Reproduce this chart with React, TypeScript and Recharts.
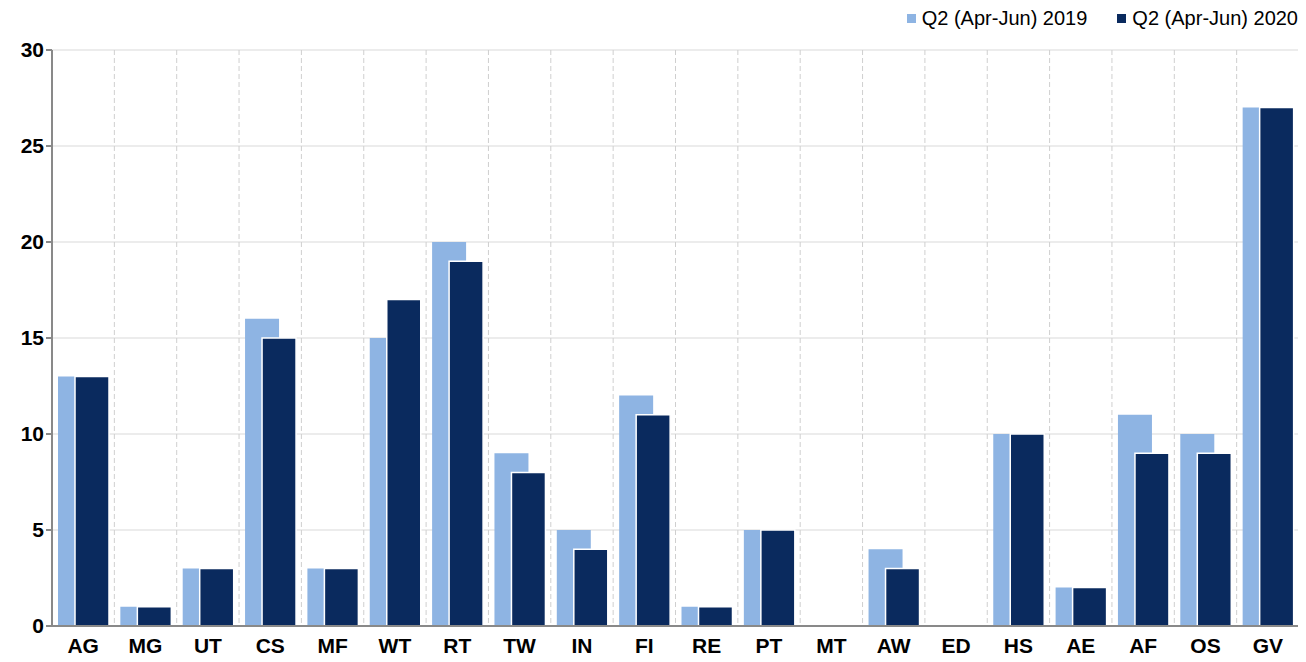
import React from 'react';
import { BarChart, Bar, XAxis, YAxis, CartesianGrid, Legend } from 'recharts';

const categories = ['AG', 'MG', 'UT', 'CS', 'MF', 'WT', 'RT', 'TW', 'IN', 'FI', 'RE', 'PT', 'MT', 'AW', 'ED', 'HS', 'AE', 'AF', 'OS', 'GV'];
const q2019 = [13, 1, 3, 16, 3, 15, 20, 9, 5, 12, 1, 5, 0, 4, 0, 10, 2, 11, 10, 27];
const q2020 = [13, 1, 3, 15, 3, 17, 19, 8, 4, 11, 1, 5, 0, 3, 0, 10, 2, 9, 9, 27];
const yTicks = [0, 5, 10, 15, 20, 25, 30];

const data = categories.map((name, i) => ({ name, a: q2019[i], b: q2020[i] }));

const LIGHT = '#8eb4e3';
const DARK = '#0a2a5e';
const FONT = 'Liberation Sans, Arial, sans-serif';

const LegendBox = () => (
  <div style={{ display: 'flex', justifyContent: 'flex-end', gap: 30, fontFamily: FONT, fontSize: 20, color: '#000', lineHeight: '20px' }}>
    {[['Q2 (Apr-Jun) 2019', LIGHT], ['Q2 (Apr-Jun) 2020', DARK]].map(([t, c]) => (
      <span key={t} style={{ display: 'flex', alignItems: 'center' }}>
        <span style={{ width: 9, height: 9, background: c, marginRight: 6, display: 'inline-block' }} />
        {t}
      </span>
    ))}
  </div>
);

export default function App() {
  return (
    <BarChart width={1292} height={654} data={data} margin={{ top: 22, right: 1, left: 0, bottom: 0 }}
      barSize={34} barGap={-17}>
      <CartesianGrid stroke="#d9d9d9" horizontal vertical={false} />
      <CartesianGrid stroke="#cfcfcf" strokeDasharray="5 3" horizontal={false}
        verticalCoordinatesGenerator={({ offset }: any) =>
          categories.map((_, i) => offset.left + ((i + 1) * offset.width) / categories.length)} />
      <XAxis dataKey="name" height={36} axisLine={{ stroke: '#898989', strokeWidth: 2 }} tickLine={false}
        tick={{ fill: '#000', fontSize: 21, fontWeight: 'bold', fontFamily: FONT }} tickMargin={6} />
      <YAxis domain={[0, 30]} ticks={yTicks} width={44} axisLine={{ stroke: '#898989', strokeWidth: 2 }}
        tickLine={{ stroke: '#898989', strokeWidth: 2 }} tickSize={6}
        tick={{ fill: '#000', fontSize: 21, fontWeight: 'bold', fontFamily: FONT }} />
      <Legend verticalAlign="top" align="right" content={<LegendBox />} wrapperStyle={{ top: 0, right: 2 }} />
      <Bar dataKey="a" fill={LIGHT} isAnimationActive={false} />
      <Bar dataKey="b" fill={DARK} stroke="#fff" strokeWidth={1.5} isAnimationActive={false} />
    </BarChart>
  );
}
